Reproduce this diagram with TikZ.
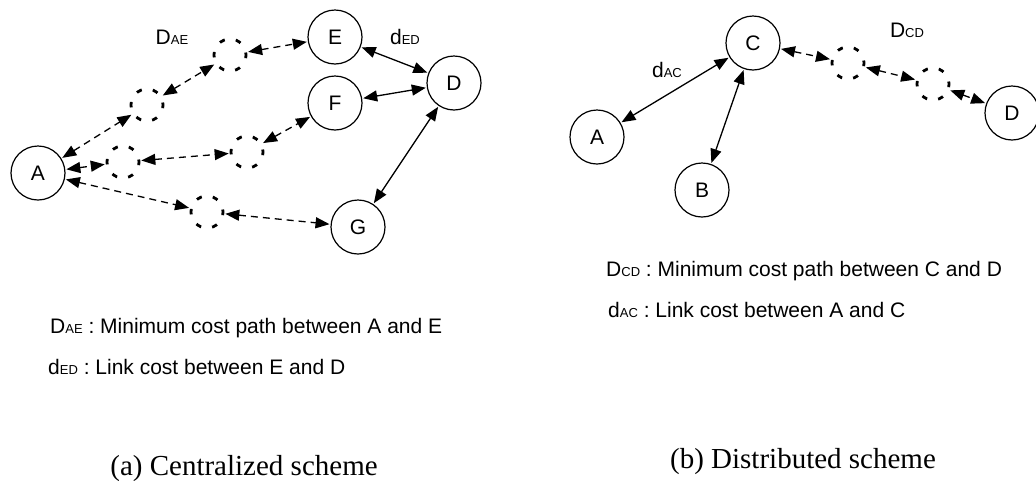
\documentclass[tikz,border=0pt]{standalone}
\usepackage{fontspec}
\setmainfont{Liberation Sans}
\newfontfamily\capfont{Liberation Serif}
\usetikzlibrary{arrows.meta}
\tikzset{
  nd/.style={circle,draw,line width=1.2pt,minimum size=54pt,inner sep=0pt,font=\fontsize{21}{24}\selectfont},
  dc/.style={circle,draw,line width=2.8pt,minimum size=32pt,inner sep=0pt,dash pattern=on 5.5pt off 11.2pt,dash phase=3pt},
  lnk/.style={line width=1.3pt,{Triangle[length=14pt,width=11pt]}-{Triangle[length=14pt,width=11pt]},shorten <=1pt,shorten >=1pt},
  dlnk/.style={lnk,dash pattern=on 7pt off 5pt},
  lbl/.style={font=\fontsize{21}{24}\selectfont,inner sep=0pt},
  leg/.style={font=\fontsize{21}{24}\selectfont,inner sep=0pt,anchor=base west},
  captxt/.style={font=\capfont\fontsize{29}{32}\selectfont,inner sep=0pt,anchor=base},
}
\newcommand{\sub}[1]{{\fontsize{13}{15}\selectfont #1}}
\begin{document}
\begin{tikzpicture}[x=1pt,y=-1pt]
\useasboundingbox (0,0) rectangle (1036,480);
% left panel
\node[nd] (A1) at (38,173) {A};
\node[nd] (E1) at (335,37) {E};
\node[nd] (F1) at (335,103) {F};
\node[nd] (D1) at (454,83) {D};
\node[nd] (G1) at (358,227) {G};
\node[dc] (l1) at (147,105) {};
\node[dc] (l2) at (230,55) {};
\node[dc] (l3) at (123,162) {};
\node[dc] (l4) at (247,152) {};
\node[dc] (l5) at (207,212) {};
\draw[dlnk] (A1) -- (l1);
\draw[dlnk] (l1) -- (l2);
\draw[dlnk] (l2) -- (E1);
\draw[dlnk] (A1) -- (l3);
\draw[dlnk] (l3) -- (l4);
\draw[dlnk] (l4) -- (F1);
\draw[dlnk] (A1) -- (l5);
\draw[dlnk] (l5) -- (G1);
\draw[lnk] (E1) -- (D1);
\draw[lnk] (F1) -- (D1);
\draw[lnk] (D1) -- (G1);
\node[lbl] (tDAE) at (172,37) {D\sub{AE}};
\node[lbl] (tdED) at (405,37) {d\sub{ED}};
\node[leg] (leg1) at (50,333) {D\sub{AE} : Minimum cost path between A and E};
\node[leg] (leg2) at (48,374) {d\sub{ED} : Link cost between E and D};
\node[captxt] (capa) at (244,475) {(a) Centralized scheme};
% right panel
\node[nd] (C2) at (753,43) {C};
\node[nd] (A2) at (597,137) {A};
\node[nd] (B2) at (702,190) {B};
\node[nd] (D2) at (1012,113) {D};
\node[dc] (r1) at (848,63) {};
\node[dc] (r2) at (933,84) {};
\draw[lnk] (A2) -- (C2);
\draw[lnk] (B2) -- (C2);
\draw[dlnk] (C2) -- (r1);
\draw[dlnk] (r1) -- (r2);
\draw[dlnk] (r2) -- (D2);
\node[lbl] (tdAC) at (667,70) {d\sub{AC}};
\node[lbl] (tDCD) at (907,30) {D\sub{CD}};
\node[leg] (leg3) at (606,276) {D\sub{CD} : Minimum cost path between C and D};
\node[leg] (leg4) at (608,317) {d\sub{AC} : Link cost between A and C};
\node[captxt] (capb) at (803,468) {(b) Distributed scheme};
\end{tikzpicture}
\end{document}
